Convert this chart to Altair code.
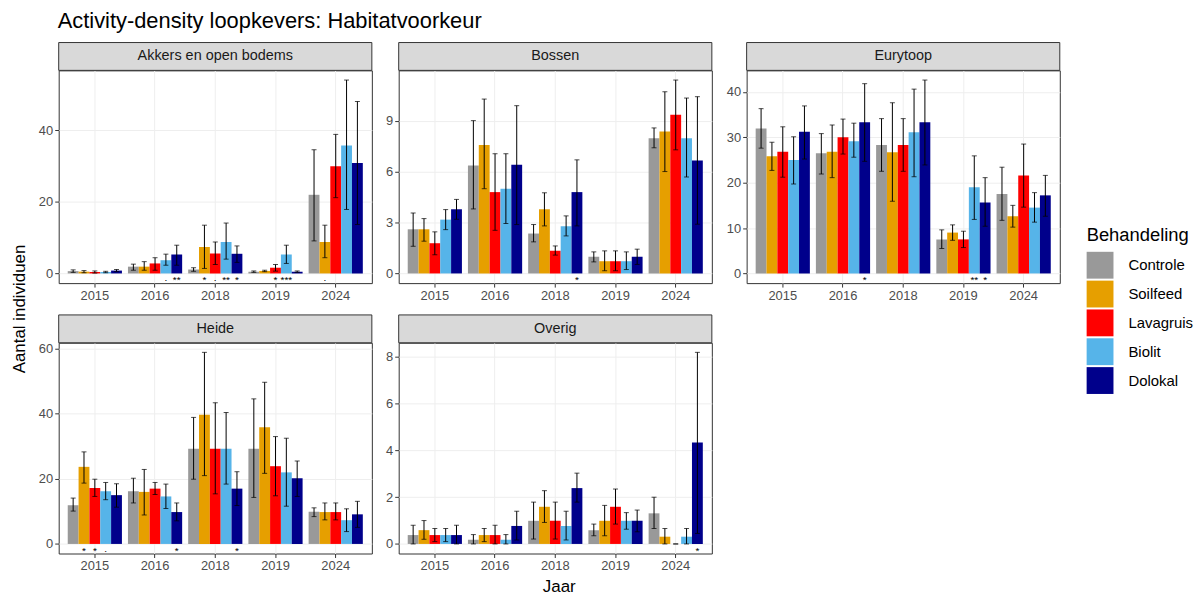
import altair as alt
import pandas as pd

treatments = ["Controle", "Soilfeed", "Lavagruis", "Biolit", "Dolokal"]
years = ["2015", "2016", "2018", "2019", "2024"]
colors = ["#999999", "#E69F00", "#FF0000", "#56B4E9", "#00008B"]

# values: year-major, treatments in order inside each year
akkers_mean = [0.65, 0.5, 0.4, 0.4, 0.8, 1.9, 1.9, 2.8, 3.7, 5.3, 1.1, 7.4, 5.6, 8.8, 5.5,
               0.5, 0.7, 1.6, 5.3, 0.5, 22.0, 8.8, 30.0, 35.8, 30.9]
akkers_lo = [0.3, 0.2, 0.1, 0.2, 0.5, 0.9, 0.9, 0.9, 2.3, 2.3, 0.6, 1.4, 2.5, 4.0, 3.1,
             0.3, 0.5, 0.65, 2.8, 0.3, 9.1, 4.4, 21.2, 17.9, 13.7]
akkers_hi = [1.0, 0.8, 0.7, 0.6, 1.1, 2.6, 3.3, 4.4, 5.4, 7.9, 1.6, 13.5, 8.8, 14.1, 7.7,
             0.7, 0.9, 2.5, 7.9, 0.7, 34.6, 13.5, 38.9, 54.1, 48.1]
akkers_sig = ["", "", "", "", "", "", "", "", "·", "**", "", "*", "·", "**", "*",
              "", "", "*", "***", "", "", "·", "", "", ""]

bossen_mean = [2.6, 2.6, 1.78, 3.17, 3.78, 6.36, 7.57, 4.79, 4.99, 6.4, 2.35, 3.78, 1.33, 2.78, 4.79,
               0.98, 0.72, 0.72, 0.72, 0.98, 7.96, 8.36, 9.35, 7.96, 6.65]
bossen_lo = [1.6, 1.9, 1.1, 2.58, 3.19, 3.8, 4.99, 2.54, 2.94, 2.88, 1.86, 2.8, 1.08, 2.21, 2.8,
             0.68, 0.16, 0.16, 0.23, 0.53, 7.4, 6.0, 7.28, 5.68, 2.9]
bossen_hi = [3.56, 3.23, 2.45, 3.76, 4.36, 9.0, 10.27, 7.05, 7.05, 9.88, 2.88, 4.75, 1.62, 3.39, 6.69,
             1.27, 1.33, 1.33, 1.27, 1.43, 8.57, 10.7, 11.39, 10.33, 10.41]
bossen_sig = ["", "", "", "", "", "", "", "", "", "", "", "", "", "", "*",
              "", "", "", "", "", "", "", "", "", ""]

eurytoop_mean = [31.9, 25.8, 26.8, 25.0, 31.2, 26.5, 26.8, 30.0, 29.1, 33.3, 28.3, 26.7, 28.3, 31.1, 33.3,
                 7.5, 9.0, 7.5, 19.0, 15.6, 17.5, 12.6, 21.6, 14.5, 17.2]
eurytoop_lo = [27.6, 22.7, 21.2, 19.7, 25.2, 21.9, 21.1, 26.3, 25.6, 24.7, 22.5, 15.9, 22.5, 21.3, 23.9,
               5.5, 7.3, 5.7, 11.9, 10.4, 11.7, 10.2, 14.6, 11.3, 12.6]
eurytoop_hi = [36.3, 28.9, 32.3, 30.1, 36.9, 30.8, 32.7, 34.0, 33.1, 41.8, 34.1, 37.6, 34.1, 40.6, 42.6,
               9.6, 10.7, 9.3, 25.9, 21.1, 23.4, 15.0, 28.5, 17.8, 21.6]
eurytoop_sig = ["", "", "", "", "", "", "", "", "", "*", "", "", "", "", "",
                "", "", "", "**", "*", "", "", "", "", ""]

heide_mean = [11.9, 23.7, 17.2, 16.2, 15.0, 16.2, 16.0, 17.0, 14.6, 9.8, 29.3, 39.7, 29.3, 29.3, 17.0,
              29.3, 35.9, 23.9, 22.0, 20.2, 9.9, 9.8, 9.8, 7.3, 9.1]
heide_lo = [10.1, 18.7, 14.6, 13.6, 11.3, 12.6, 8.9, 15.2, 10.9, 7.1, 19.9, 21.0, 15.4, 18.4, 11.8,
            14.3, 21.7, 14.8, 11.6, 14.6, 8.4, 7.4, 7.4, 3.8, 5.1]
heide_hi = [14.1, 28.3, 19.9, 18.9, 18.5, 20.2, 22.9, 18.9, 18.4, 12.6, 38.9, 58.9, 43.4, 40.4, 22.2,
            44.6, 49.7, 33.0, 32.5, 25.5, 11.1, 12.6, 12.6, 10.8, 13.1]
heide_sig = ["", "*", "*", "·", "", "", "", "", "", "*", "", "", "", "", "*",
             "", "", "", "", "", "", "", "", "", ""]

overig_mean = [0.38, 0.59, 0.38, 0.38, 0.38, 0.18, 0.38, 0.38, 0.18, 0.77, 0.99, 1.59, 0.99, 0.77, 2.39,
               0.59, 0.99, 1.59, 0.99, 0.99, 1.31, 0.31, 0.0, 0.31, 4.34]
overig_lo = [0.0, 0.2, 0.1, 0.1, 0.0, 0.0, 0.1, 0.0, 0.0, 0.17, 0.21, 0.92, 0.21, 0.17, 1.79,
             0.35, 0.35, 0.85, 0.63, 0.52, 0.66, 0.0, 0.0, 0.0, 0.45]
overig_hi = [0.8, 1.0, 0.66, 0.66, 0.8, 0.4, 0.66, 0.8, 0.4, 1.4, 1.79, 2.28, 1.79, 1.4, 3.03,
             0.85, 1.65, 2.35, 1.34, 1.45, 2.0, 0.66, 0.0, 0.66, 8.2]
overig_sig = ["", "", "", "", "", "", "", "", "", "", "", "", "", "", "",
              "", "", "", "", "", "", "", "", "", "*"]

FONT = "Liberation Sans"


def make_df(mean, lo, hi, sig):
    rows = []
    for i, yr in enumerate(years):
        for j, t in enumerate(treatments):
            k = i * len(treatments) + j
            rows.append(dict(year=yr, treatment=t, mean=mean[k], lo=lo[k], hi=hi[k], sig=sig[k]))
    return pd.DataFrame(rows)


def panel(name, df, ticks, width, height, y_extent, jaar=False, jaar_x=0):
    M = float(df["hi"].max())
    yscale = alt.Scale(domain=[-0.05 * M, 1.05 * M], nice=False, zero=False)
    yaxis = alt.Axis(values=ticks, minExtent=y_extent, maxExtent=y_extent, title=None)
    if jaar:
        xaxis = alt.Axis(title="Jaar", titleX=jaar_x, titleFontSize=17, titleFontWeight="normal",
                         titleColor="black", titlePadding=5, titleFont=FONT)
    else:
        xaxis = alt.Axis(title=None)
    base = alt.Chart(df).encode(
        x=alt.X("year:N", sort=years, axis=xaxis,
                scale=alt.Scale(paddingInner=0.1, paddingOuter=0.15)),
        xOffset=alt.XOffset("treatment:N", sort=treatments,
                            scale=alt.Scale(paddingInner=0, paddingOuter=0)),
    )
    bars = base.mark_bar().encode(
        y=alt.Y("mean:Q", scale=yscale, axis=yaxis),
        y2=alt.datum(0),
        color=alt.Color("treatment:N", sort=treatments,
                        scale=alt.Scale(domain=treatments, range=colors),
                        legend=alt.Legend(title="Behandeling", orient="none",
                                          legendX=1085, legendY=157,
                                          symbolType="square", symbolSize=729,
                                          symbolStrokeWidth=0, symbolOpacity=1,
                                          labelFontSize=15, labelColor="black",
                                          labelFont=FONT, titleFont=FONT,
                                          titleFontSize=18.5, titleFontWeight="normal",
                                          titleColor="black", titlePadding=7,
                                          rowPadding=2, labelOffset=15, padding=0)),
    )
    rules = base.mark_rule(color="black", strokeWidth=1).encode(
        y=alt.Y("lo:Q", scale=yscale, axis=yaxis), y2="hi:Q")
    cap_hi = base.mark_tick(color="black", size=5, thickness=1).encode(
        y=alt.Y("hi:Q", scale=yscale, axis=yaxis))
    cap_lo = base.mark_tick(color="black", size=5, thickness=1).encode(
        y=alt.Y("lo:Q", scale=yscale, axis=yaxis))
    stars = base.mark_text(baseline="top", dy=2, fontSize=10, color="black", font=FONT).encode(
        y=alt.datum(0), text="sig:N")
    sdf = pd.DataFrame({"label": [name]})
    strip_bg = alt.Chart(sdf).mark_rect(fill="#D9D9D9", stroke="#333333", strokeWidth=1).encode(
        x=alt.value(0), x2=alt.value(width), y=alt.value(-28), y2=alt.value(0))
    strip_txt = alt.Chart(sdf).mark_text(fontSize=14.5, color="#1A1A1A", font=FONT).encode(
        x=alt.value(width / 2), y=alt.value(-14), text="label:N")
    return alt.layer(bars, rules, cap_hi, cap_lo, stars, strip_bg, strip_txt).properties(
        width=width, height=height)


p_akkers = panel("Akkers en open bodems", make_df(akkers_mean, akkers_lo, akkers_hi, akkers_sig),
                 [0, 20, 40], 315, 214, 30)
p_bossen = panel("Bossen", make_df(bossen_mean, bossen_lo, bossen_hi, bossen_sig),
                 [0, 3, 6, 9], 315, 214, 25)
p_eury = panel("Eurytoop", make_df(eurytoop_mean, eurytoop_lo, eurytoop_hi, eurytoop_sig),
               [0, 10, 20, 30, 40], 315, 214, 33)
p_heide = panel("Heide", make_df(heide_mean, heide_lo, heide_hi, heide_sig),
                [0, 20, 40, 60], 315, 212, 30)
p_overig = panel("Overig", make_df(overig_mean, overig_lo, overig_hi, overig_sig),
                 [0, 2, 4, 6, 8], 315, 212, 25, jaar=True, jaar_x=161)

row1 = alt.hconcat(p_akkers, p_bossen, p_eury, spacing=0)
row2 = alt.hconcat(p_heide, p_overig, spacing=0)
grid = alt.vconcat(row1, row2, spacing=10)

ytitle = alt.Chart(pd.DataFrame({"t": ["Aantal individuen"]})).mark_text(
    angle=270, fontSize=17, color="black", font=FONT).encode(
    text="t:N", x=alt.value(12), y=alt.value(240)).properties(
    width=20, height=480, view=alt.ViewBackground(strokeOpacity=0))

chart = alt.hconcat(ytitle, grid, spacing=0).properties(
    padding=0,
    title=alt.TitleParams("Activity-density loopkevers: Habitatvoorkeur", anchor="start",
                          fontSize=22, fontWeight="normal", color="black", font=FONT,
                          dx=50, offset=9),
).configure_view(stroke="#333333", strokeWidth=1).configure_axis(
    labelFont=FONT, labelFontSize=13, labelColor="#4D4D4D", tickColor="#333333",
    tickSize=4, labelPadding=2, domain=False, grid=True, gridColor="#EEEEEE",
).configure_axisX(minExtent=20, maxExtent=20, labelAngle=0)

chart.save("out.html", embed_options={"renderer": "svg", "actions": False})
